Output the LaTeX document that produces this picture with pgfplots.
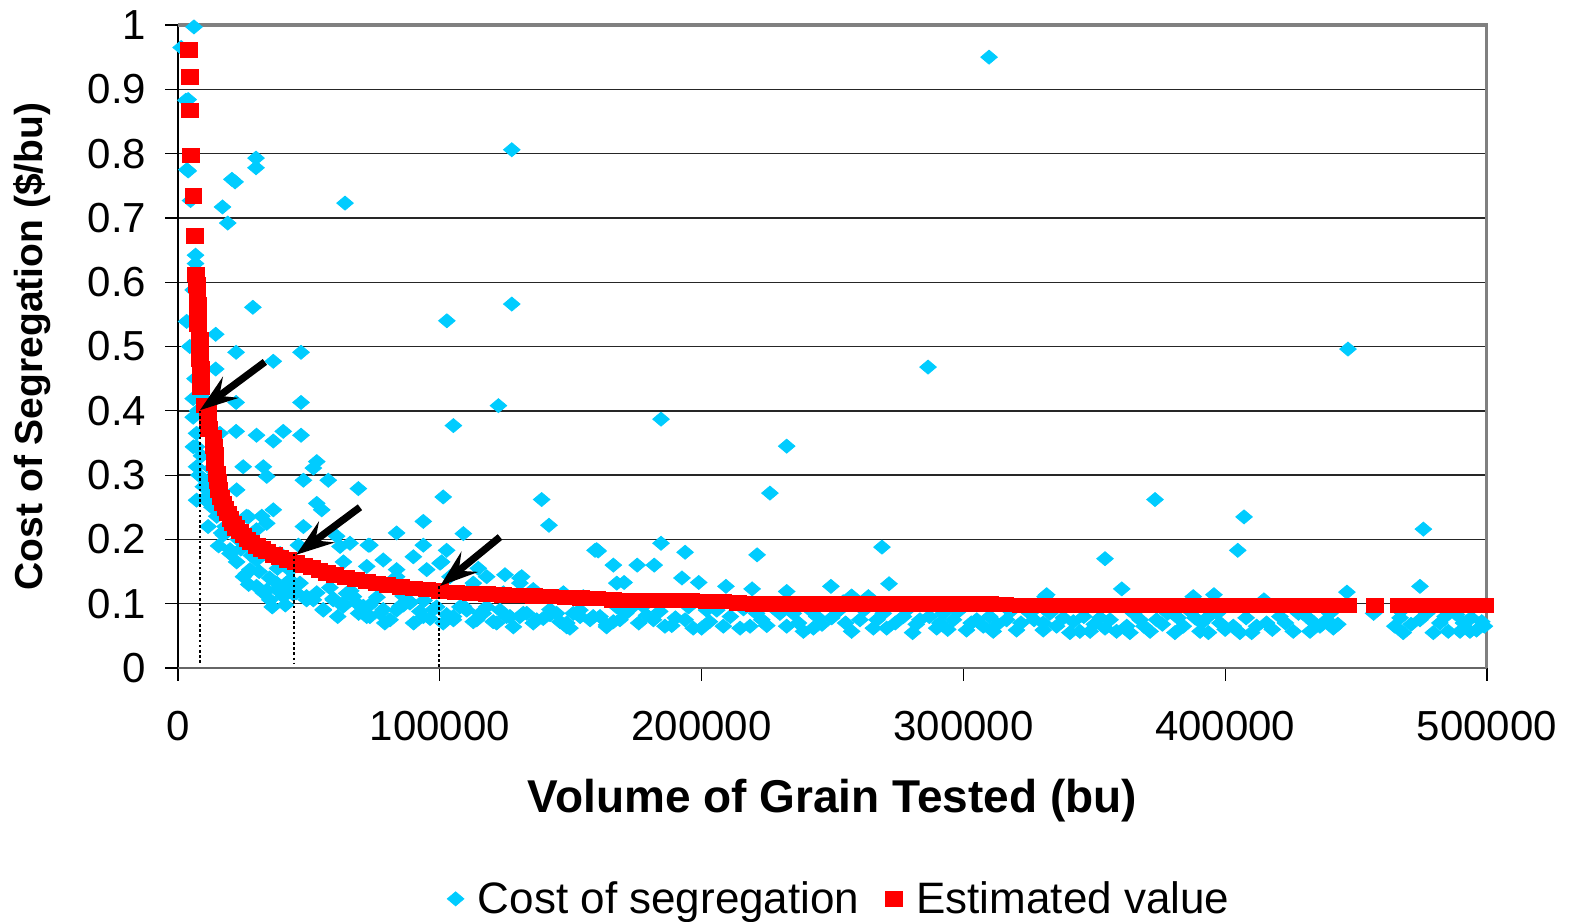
\documentclass[border=0pt]{standalone}
\usepackage{fontspec}
\setmainfont{Liberation Sans}
\usepackage{pgfplots}
\pgfplotsset{compat=1.18}
\usetikzlibrary{arrows.meta,calc}
\definecolor{cyanpt}{RGB}{0,204,255}
\definecolor{redpt}{RGB}{255,0,0}
\begin{document}
\begin{tikzpicture}
\begin{axis}[
 scale only axis, width=654.5pt, height=321.5pt,
 xmin=0, xmax=500000, ymin=0, ymax=1,
 clip=false,
 axis line style={draw=none},
 xtick={0,100000,200000,300000,400000,500000},
 ytick={0,0.1,0.2,0.3,0.4,0.5,0.6,0.7,0.8,0.9,1},
 scaled x ticks=false, scaled y ticks=false,
 xticklabel style={/pgf/number format/fixed,/pgf/number format/1000 sep={}, yshift=-12pt},
 yticklabel style={/pgf/number format/fixed,/pgf/number format/precision=1, xshift=-6pt},
 /pgf/number format/assume math mode=true,
 tick label style={font=\fontsize{21}{25}\selectfont},
 tick align=outside, major tick length=6.3pt, xtick pos=bottom, ytick pos=left,
 tick style={black, line width=0.6pt},
 ymajorgrids, grid style={black!85, line width=0.7pt},
 xlabel={Volume of Grain Tested (bu)},
 ylabel={Cost of Segregation (\$/bu)},
 xlabel style={font=\bfseries\fontsize{23}{27}\selectfont, at={(axis description cs:0.5,-0.2065)}, anchor=center},
 ylabel style={font=\bfseries\fontsize{19.5}{23}\selectfont, at={(axis description cs:-0.1115,0.5)}, anchor=center},
 legend style={at={(axis description cs:0.506,-0.359)}, anchor=center, draw=none, fill=none,
   font=\fontsize{22}{26}\selectfont, legend columns=2,
   /tikz/every even column/.append style={column sep=11pt},
   /tikz/every odd column/.append style={column sep=5pt}},
]
\coordinate (BL) at (rel axis cs:0,0);
\draw[black, line width=1pt] (rel axis cs:0,0) -- (rel axis cs:0,1);
\draw[black!60, line width=1.2pt] (rel axis cs:0,0) -- (rel axis cs:1,0);
\draw[gray, line width=1.5pt] (rel axis cs:0,1) -- (rel axis cs:1,1) -- (rel axis cs:1,0);

\addplot[only marks, mark=diamond*, mark size=3.5pt, color=cyanpt,
  mark options={xscale=1.58, draw=cyanpt, fill=cyanpt}] coordinates {
(1200,0.965) (3000,0.883) (3900,0.884) (6100,0.997) (3400,0.775) (3900,0.773) (4800,0.727)
(6700,0.642) (6700,0.629) (5800,0.588) (3300,0.539) (5800,0.419) (5800,0.390) (7100,0.365)
(7100,0.344) (7100,0.313) (5900,0.344) (9700,0.282) (10300,0.262) (7100,0.261) (14800,0.236)
(16700,0.210) (17300,0.207) (19900,0.184) (19900,0.178) (14400,0.519) (14400,0.465)
(17000,0.717) (19000,0.692) (8000,0.30) (9000,0.33) (11000,0.29) (12000,0.27) (13000,0.25)
(11500,0.22) (15500,0.19) (18000,0.22) (12500,0.31) (6500,0.45) (7500,0.40) (4500,0.50)
(9500,0.42) (16000,0.365)
(21800,0.756) (20600,0.760) (29800,0.793) (29800,0.778) (28600,0.561) (22200,0.491)
(36400,0.477) (22200,0.413) (22200,0.368) (30000,0.362) (40200,0.368) (36400,0.353)
(22400,0.277) (24900,0.313) (32600,0.313) (33900,0.298) (36400,0.246) (26200,0.236)
(30000,0.215) (33900,0.225) (26900,0.235) (32000,0.236) (22400,0.165) (26200,0.147)
(25000,0.142) (27500,0.153) (30000,0.127) (32600,0.117) (35100,0.106) (37700,0.122)
(33900,0.121) (37700,0.132) (30000,0.168) (39000,0.178) (42800,0.152) (40200,0.111)
(42800,0.132) (40900,0.121) (42800,0.137) (24000,0.185) (28000,0.175) (31000,0.150)
(35000,0.140) (38000,0.155) (44000,0.115) (23000,0.200) (27000,0.130) (36000,0.095) (41000,0.098)
(47000,0.491) (47000,0.413) (47000,0.362) (53000,0.321) (51700,0.311) (47900,0.292)
(57400,0.292) (68900,0.279) (54900,0.246) (53000,0.256) (47900,0.220) (60600,0.205)
(65700,0.194) (72700,0.191) (63800,0.723) (83500,0.210) (93700,0.228) (93700,0.191)
(89900,0.173) (78400,0.168) (83500,0.153) (95000,0.153) (46000,0.191) (63200,0.165)
(61900,0.189) (73300,0.191) (72100,0.158) (83500,0.142)
(45300,0.117) (49100,0.106) (53000,0.117) (55500,0.091) (59300,0.106) (63100,0.096)
(67000,0.111) (70800,0.096) (73300,0.080) (78400,0.091) (81000,0.075) (84800,0.096)
(88600,0.101) (93700,0.080) (97500,0.091) (46600,0.132) (49100,0.111) (51700,0.106)
(55500,0.090) (59300,0.108) (63200,0.101) (64400,0.116) (68200,0.101) (72100,0.080)
(73300,0.098) (77200,0.085) (83500,0.090) (86100,0.098) (88600,0.103) (92400,0.088)
(96300,0.077) (98800,0.095) (58000,0.125) (66000,0.120) (76000,0.110) (86000,0.112)
(94000,0.105) (79000,0.070) (90000,0.070) (61000,0.080) (69000,0.085)
(102700,0.540) (127500,0.806) (127500,0.566) (122400,0.408) (105200,0.377) (101300,0.266)
(138900,0.262) (141700,0.222) (109000,0.209) (102600,0.183) (159300,0.183) (124900,0.145)
(131300,0.142) (114700,0.155) (100100,0.163) (100700,0.165) (112800,0.132) (130600,0.140)
(159900,0.184) (103900,0.142) (111500,0.122) (117900,0.142) (124300,0.117) (130600,0.132)
(135700,0.122) (142100,0.111) (147200,0.117) (154800,0.111)
(101300,0.070) (105200,0.080) (109000,0.096) (114100,0.075) (116600,0.085) (121700,0.070)
(126800,0.080) (131900,0.085) (137000,0.075) (142100,0.091) (148500,0.070) (152300,0.085)
(158600,0.080) (102600,0.083) (105200,0.075) (107700,0.095) (110300,0.090) (112800,0.072)
(115400,0.085) (117900,0.095) (120400,0.072) (123000,0.090) (125500,0.080) (128100,0.064)
(130600,0.080) (133200,0.085) (135700,0.070) (139500,0.077) (142100,0.083) (145900,0.072)
(148500,0.064) (151000,0.085) (153500,0.090) (157400,0.075) (144600,0.085) (149700,0.062)
(153600,0.080) (147200,0.116)
(160500,0.182) (161200,0.080) (163700,0.064) (163700,0.067) (166300,0.072) (166300,0.160)
(167600,0.095) (167600,0.132) (168800,0.075) (170400,0.133) (173900,0.096) (175400,0.160)
(177700,0.096) (181600,0.075) (181900,0.160) (184500,0.387) (184500,0.194) (186000,0.065)
(188600,0.066) (192500,0.140) (193700,0.180) (193700,0.075) (196800,0.062) (198900,0.133)
(200000,0.062) (201900,0.090) (205800,0.090) (208300,0.065) (209300,0.127) (214700,0.062)
(218500,0.065) (219300,0.123) (221000,0.085) (221200,0.176) (224900,0.066) (226100,0.272)
(229900,0.085) (232500,0.345) (232500,0.119) (232500,0.065) (235000,0.085) (238900,0.057)
(242700,0.062) (244000,0.080) (249400,0.127) (249700,0.078) (254100,0.103) (257300,0.112)
(257300,0.057) (260500,0.075) (263700,0.111) (265600,0.062) (268900,0.188) (269400,0.085)
(270700,0.062) (271600,0.131) (277100,0.080) (280600,0.055) (283400,0.075) (286500,0.468)
(289800,0.062) (292300,0.085) (296200,0.075) (301200,0.059) (305100,0.075) (307600,0.065)
(309800,0.950) (311400,0.057) (316500,0.075) (320300,0.059) (325400,0.085) (330500,0.059)
(171000,0.085) (176000,0.070) (179000,0.082) (184000,0.088) (190000,0.078) (195000,0.095)
(203000,0.072) (211000,0.080) (216000,0.092) (223000,0.075) (227000,0.095) (237000,0.070)
(241000,0.092) (246000,0.068) (252000,0.088) (255000,0.070) (262000,0.090) (267000,0.075)
(274000,0.070) (279000,0.092) (282000,0.068) (287000,0.080) (291000,0.070) (294000,0.060)
(298000,0.088) (303000,0.070) (310000,0.080) (313000,0.068) (318000,0.088) (322000,0.070)
(327000,0.075)
(331200,0.111) (331800,0.114) (330500,0.070) (335600,0.065) (338200,0.078) (340700,0.055)
(342000,0.072) (344500,0.057) (348400,0.057) (352200,0.078) (354100,0.062) (354100,0.170)
(358500,0.057) (360500,0.123) (362400,0.065) (363600,0.055) (367500,0.075) (371300,0.057)
(373200,0.262) (373800,0.075) (380800,0.055) (384000,0.065) (387800,0.111) (388500,0.078)
(390400,0.057) (393600,0.055) (393600,0.080) (395700,0.114) (398000,0.070) (403100,0.065)
(404800,0.183) (405600,0.055) (407200,0.235) (410100,0.055) (414800,0.106) (415800,0.070)
(420900,0.080) (426000,0.057) (431100,0.080) (432400,0.057) (436200,0.065) (438800,0.075)
(441300,0.062) (446500,0.118) (446900,0.496) (456700,0.085) (464800,0.065) (466800,0.078)
(468000,0.055) (474400,0.075) (474400,0.127) (475700,0.216) (479500,0.055) (482000,0.070)
(485200,0.057) (488400,0.083) (489700,0.057) (493500,0.057) (496000,0.059) (498000,0.072)
(333000,0.085) (346000,0.080) (350000,0.068) (356000,0.075) (365000,0.085) (369000,0.065)
(376000,0.068) (378000,0.085) (382000,0.078) (386000,0.090) (391000,0.070) (397000,0.085)
(400000,0.060) (408000,0.078) (412000,0.065) (418000,0.060) (423000,0.070) (428000,0.085)
(434000,0.070) (440000,0.085) (443000,0.068) (467000,0.088) (471000,0.068) (477000,0.085)
(484000,0.080) (491000,0.070) (494000,0.078) (499000,0.065)
};
\addlegendentry{Cost of segregation}

\addplot[only marks, mark=square*, mark size=3.6pt, color=redpt,
  mark options={xscale=1.17, draw=redpt, fill=redpt}] coordinates {
(4200,0.961) (4400,0.919) (4600,0.867) (4900,0.797) (5900,0.734) (6300,0.672) (6800,0.612)
(7200,0.596) (7400,0.580) (7500,0.565) (7600,0.550) (7700,0.535) (8300,0.510) (8400,0.495)
(8500,0.480) (8600,0.465) (8700,0.450) (8800,0.436) (10400,0.408) (11300,0.398) (11500,0.385)
(11700,0.372) (13500,0.358) (13800,0.345) (14000,0.332) (14200,0.318) (15000,0.302)
(15300,0.290) (15600,0.277) (16500,0.265) (17300,0.256) (18100,0.248) (19000,0.240)
(20000,0.232) (21000,0.225) (22200,0.218) (23500,0.212) (25000,0.206) (26500,0.200)
(28000,0.195) (30000,0.190) (32000,0.185) (34000,0.181) (36500,0.176) (39000,0.172)
(42000,0.168) (45000,0.164) (48000,0.160) (51000,0.156) (54000,0.152) (57000,0.148)
(60000,0.145) (64000,0.141) (68000,0.138) (72000,0.135) (76000,0.132) (80000,0.129)
(85000,0.126) (90000,0.124) (95000,0.122) (100000,0.120) (106000,0.118) (112000,0.116)
(118000,0.115) (124000,0.114) (130000,0.113) (136000,0.112) (142000,0.111) (148000,0.110)
(154000,0.109) (160000,0.108) (166000,0.106) (172000,0.105) (178000,0.105) (184000,0.105)
(190000,0.105) (196000,0.105) (202000,0.104) (208000,0.104) (214000,0.101) (220000,0.100)
(226000,0.100) (232000,0.100) (238000,0.100) (244000,0.100) (250000,0.100) (256000,0.100)
(262000,0.100) (268000,0.100) (274000,0.100) (280000,0.100) (286000,0.100) (292000,0.100)
(298000,0.100) (304000,0.100) (310000,0.100) (316000,0.099) (322000,0.097) (328000,0.097)
(334000,0.097) (340000,0.097) (346000,0.097) (352000,0.097) (358000,0.097) (364000,0.097)
(370000,0.097) (376000,0.097) (382000,0.097) (388000,0.097) (394000,0.097) (400000,0.097)
(406000,0.097) (412000,0.097) (418000,0.097) (424000,0.097) (430000,0.097) (436000,0.097)
(442000,0.097) (447000,0.097) (457200,0.097) (466200,0.097) (471500,0.097) (477000,0.097)
(482500,0.097) (488000,0.097) (493500,0.097) (499200,0.097)
};
\addlegendentry{Estimated value}

\coordinate (d1t) at (axis cs:8400,0.40);
\coordinate (d1b) at (axis cs:8400,0.008);
\coordinate (d2t) at (axis cs:44300,0.178);
\coordinate (d2b) at (axis cs:44300,0.008);
\coordinate (d3t) at (axis cs:99600,0.127);
\coordinate (d3b) at (axis cs:99600,0);
\coordinate (a1s) at (axis cs:33200,0.476);
\coordinate (a1e) at (axis cs:8400,0.401);
\coordinate (a2s) at (axis cs:69500,0.250);
\coordinate (a2e) at (axis cs:45100,0.176);
\coordinate (a3s) at (axis cs:123000,0.2037);
\coordinate (a3e) at (axis cs:100100,0.1275);
\end{axis}
\draw[black, line width=0.9pt, dash pattern=on 1.3pt off 1.3pt] (d1t) -- (d1b);
\draw[black, line width=0.9pt, dash pattern=on 1.3pt off 1.3pt] (d2t) -- (d2b);
\draw[black, line width=0.9pt, dash pattern=on 1.3pt off 1.3pt] (d3t) -- (d3b);
\draw[black, line width=3.6pt, -{Stealth[length=19pt,width=13pt,inset=7pt]}] (a1s) -- (a1e);
\draw[black, line width=3.6pt, -{Stealth[length=19pt,width=13pt,inset=7pt]}] (a2s) -- (a2e);
\draw[black, line width=3.6pt, -{Stealth[length=19pt,width=13pt,inset=7pt]}] (a3s) -- (a3e);
\pgfresetboundingbox
\path (BL) ++(-89pt,-127pt) rectangle ++(788pt,461pt);
\end{tikzpicture}
\end{document}
